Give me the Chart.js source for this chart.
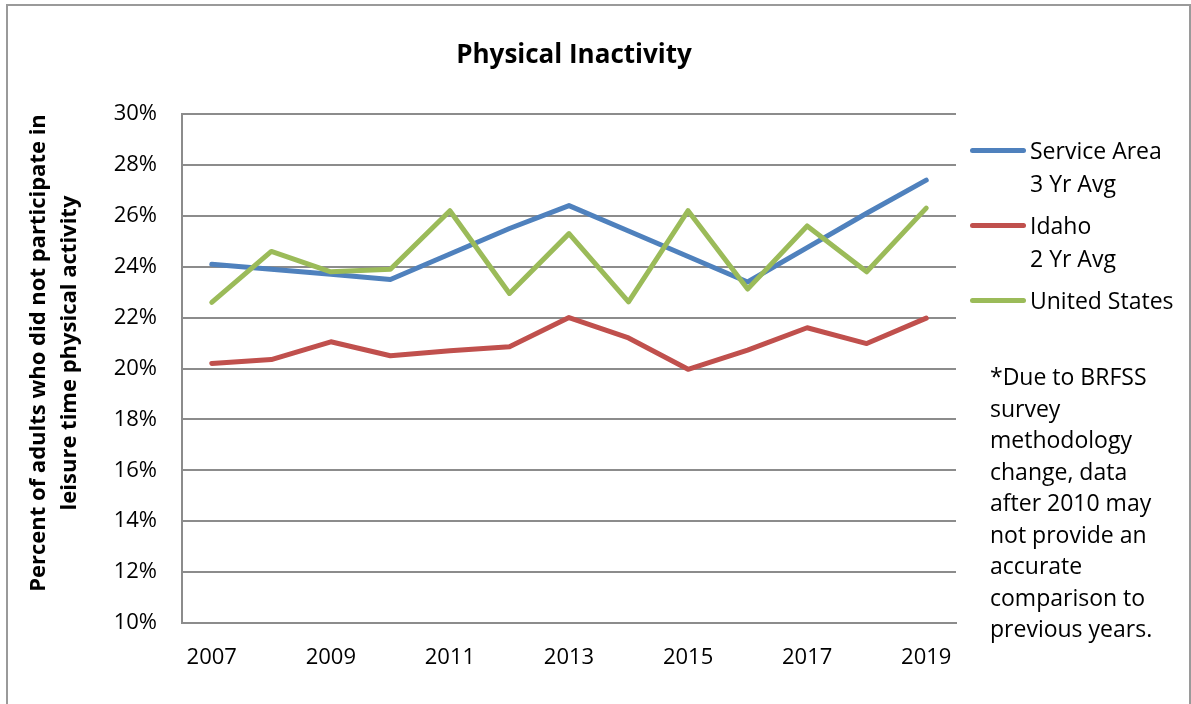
<!DOCTYPE html>
<html>
<head>
<meta charset="utf-8">
<script src="https://cdn.jsdelivr.net/npm/chart.js@4/dist/chart.umd.min.js"></script>
<style>
  html, body { margin: 0; padding: 0; background: #fff; }
  #wrap { position: relative; width: 1191px; height: 704px; overflow: hidden; background: #fff; font-family: "Open Sans", sans-serif; color: #000; }
  #c { position: absolute; left: 0; top: 0; }
  #frame { position: absolute; left: 6px; top: 4px; width: 1185px; height: 760px; border: 2px solid #9a9a9a; box-sizing: border-box; pointer-events: none; }
  #title { position: absolute; left: 374px; top: 38px; width: 400px; text-align: center; font-weight: bold; font-size: 26px; line-height: 30px; }
  #ytitle { position: absolute; left: -238px; top: 322px; width: 580px; height: 62px; text-align: center; font-weight: bold; font-size: 22px; line-height: 31px; transform: rotate(-90deg); transform-origin: 50% 50%; white-space: nowrap; }
  .leg { position: absolute; left: 970px; font-size: 23px; line-height: 33px; }
  .leg .sw { position: absolute; left: 0; top: 14px; width: 56px; height: 5px; border-radius: 3px; }
  .leg .tx { position: absolute; left: 60px; top: 0; white-space: pre; }
  #note { position: absolute; left: 990px; top: 361px; font-size: 23px; line-height: 31.5px; white-space: pre; }
</style>
</head>
<body>
<div id="wrap">
  <canvas id="c" width="1191" height="704"></canvas>
  <div id="frame"></div>
  <div id="title"></div>
  <div id="ytitle"></div>
  <div id="legend"></div>
  <div id="note"></div>
</div>
<script>
const chartTitle = "Physical Inactivity";
const yAxisTitle = ["Percent of adults who did not participate in", "leisure time physical activity"];
const noteLines = ["*Due to BRFSS", "survey", "methodology", "change, data", "after 2010 may", "not provide an", "accurate", "comparison to", "previous years."];

const years = ["2007","2008","2009","2010","2011","2012","2013","2014","2015","2016","2017","2018","2019"];
const seriesNames = ["Service Area\n3 Yr Avg", "Idaho\n2 Yr Avg", "United States"];
const serviceArea = [24.1, 23.9, 23.7, 23.5, 24.5, 25.5, 26.4, 25.4, 24.4, 23.4, 24.75, 26.1, 27.4];
const idaho       = [20.2, 20.35, 21.05, 20.5, 20.7, 20.85, 22.0, 21.2, 19.97, 20.72, 21.6, 20.98, 21.98];
const unitedStates= [22.6, 24.6, 23.8, 23.9, 26.2, 22.95, 25.3, 22.62, 26.2, 23.12, 25.6, 23.8, 26.3];
const yTicks = [10, 12, 14, 16, 18, 20, 22, 24, 26, 28, 30];
const seriesColors = ["#4F81BD", "#C0504D", "#9BBB59"];

document.getElementById('title').textContent = chartTitle;
document.getElementById('ytitle').innerHTML = yAxisTitle.map(s => '<div>' + s + '</div>').join('');
document.getElementById('note').textContent = noteLines.join('\n');

const legendTops = [134, 209, 284];
const legendEl = document.getElementById('legend');
seriesNames.forEach((name, i) => {
  const item = document.createElement('div');
  item.className = 'leg';
  item.style.top = legendTops[i] + 'px';
  const sw = document.createElement('div');
  sw.className = 'sw';
  sw.style.background = seriesColors[i];
  const tx = document.createElement('div');
  tx.className = 'tx';
  tx.textContent = name;
  item.appendChild(sw); item.appendChild(tx);
  legendEl.appendChild(item);
});

const values = [serviceArea, idaho, unitedStates];
const drawOrder = [2, 1, 0];
const datasets = values.map((v, i) => ({
  label: seriesNames[i].replace('\n', ' '),
  data: v,
  borderColor: seriesColors[i],
  backgroundColor: seriesColors[i],
  borderWidth: 5,
  pointRadius: 0,
  pointHoverRadius: 0,
  tension: 0,
  fill: false,
  borderCapStyle: 'round',
  borderJoinStyle: 'round',
  order: drawOrder[i]
}));

const axisGray = '#8c8c8c';
new Chart(document.getElementById('c'), {
  type: 'line',
  data: { labels: years, datasets },
  options: {
    responsive: false,
    animation: false,
    devicePixelRatio: 1,
    layout: { padding: { left: 0, top: 114, right: 235, bottom: 0 } },
    plugins: { legend: { display: false }, title: { display: false }, tooltip: { enabled: false } },
    scales: {
      x: {
        type: 'category',
        offset: true,
        grid: { display: false, drawTicks: false },
        border: { display: true, color: axisGray, width: 2 },
        ticks: {
          autoSkip: false, maxRotation: 0, minRotation: 0, padding: 22,
          color: '#000', font: { family: 'Open Sans', size: 22 },
          callback: function(val, idx) { return idx % 2 === 0 ? this.getLabelForValue(val) : ''; }
        },
        afterFit: s => { s.height = 81; }
      },
      y: {
        min: 10, max: 30,
        afterBuildTicks: s => { s.ticks = yTicks.map(v => ({ value: v })); },
        grid: { color: axisGray, lineWidth: 2, drawTicks: false },
        border: { display: true, color: axisGray, width: 2 },
        ticks: {
          padding: 25, color: '#000', font: { family: 'Open Sans', size: 22 },
          callback: v => v + '%'
        },
        afterFit: s => { s.width = 182; }
      }
    }
  }
});
</script>
</body>
</html>
